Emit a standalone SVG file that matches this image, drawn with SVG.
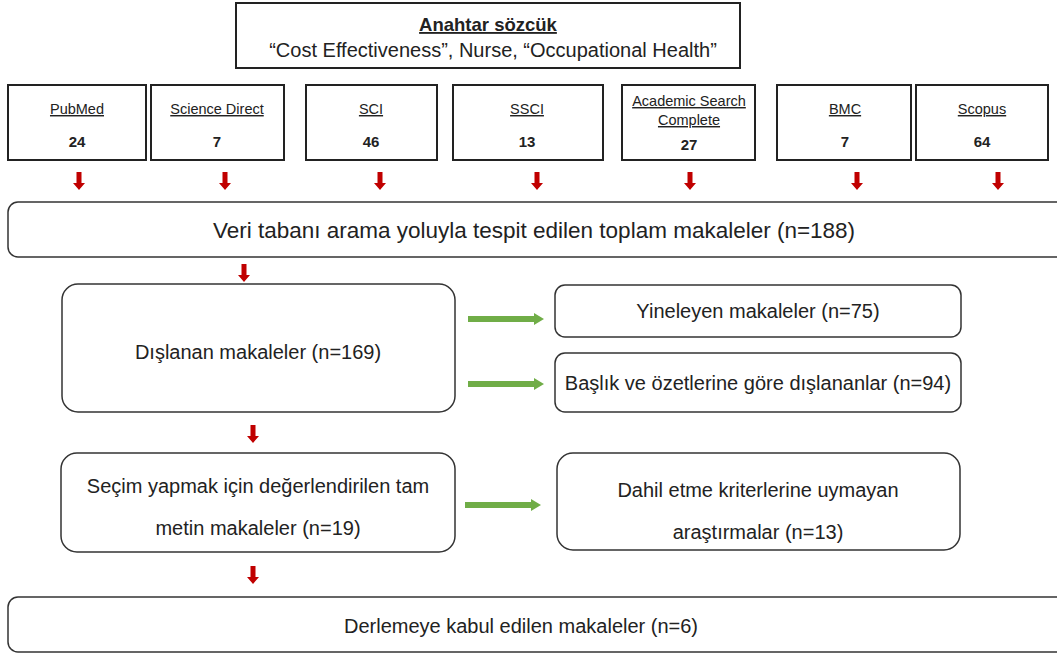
<svg xmlns="http://www.w3.org/2000/svg" width="1057" height="655" viewBox="0 0 1057 655">
<defs>
<style>
.bx{fill:#fff;stroke:#222;stroke-width:2}
.rb{fill:#fff;stroke:#333;stroke-width:1.5}
text{font-family:"Liberation Sans",Arial,sans-serif;fill:#222;text-anchor:middle}
.src{font-size:14.5px;text-decoration:underline}
.num{font-size:15px;font-weight:bold}
.big{font-size:22.5px}
.mid{font-size:20px}
.red{fill:#c00000}
.grn{fill:#70ad47}
</style>
<path id="ra" d="M-2.5,0 H2.5 V11 H6 L0,18 L-6,11 H-2.5 Z"/>
<path id="ga" d="M0,-3 H66 V-6 L76,0 L66,6 V3 H0 Z"/>
</defs>
<rect width="1057" height="655" fill="#fff"/>
<g id="keyword">
<rect class="bx" x="236" y="3" width="504" height="65"/>
<text x="488" y="31" style="font-size:18.5px;font-weight:bold;text-decoration:underline">Anahtar sözcük</text>
<text x="493" y="57" style="font-size:20px">“Cost Effectiveness”, Nurse, “Occupational Health”</text>
</g>
<g id="pubmed"><rect class="bx" x="8" y="85" width="138" height="75"/><text class="src" x="77" y="114">PubMed</text><text class="num" x="77" y="147">24</text></g>
<g id="sciencedirect"><rect class="bx" x="151" y="85" width="133" height="75"/><text class="src" x="217" y="114">Science Direct</text><text class="num" x="217" y="147">7</text></g>
<g id="sci"><rect class="bx" x="306" y="85" width="131" height="75"/><text class="src" x="371" y="114">SCI</text><text class="num" x="371" y="147">46</text></g>
<g id="ssci"><rect class="bx" x="453" y="85" width="150" height="75"/><text class="src" x="527" y="114">SSCI</text><text class="num" x="527" y="147">13</text></g>
<g id="academic"><rect class="bx" x="622" y="85" width="133" height="75"/><text class="src" x="689" y="106">Academic Search</text><text class="src" x="689" y="125">Complete</text><text class="num" x="689" y="150">27</text></g>
<g id="bmc"><rect class="bx" x="777" y="85" width="134" height="75"/><text class="src" x="845" y="114">BMC</text><text class="num" x="845" y="147">7</text></g>
<g id="scopus"><rect class="bx" x="916" y="85" width="132" height="75"/><text class="src" x="982" y="114">Scopus</text><text class="num" x="982" y="147">64</text></g>
<g id="total"><rect class="rb" x="8" y="202" width="1060" height="55" rx="10"/><text class="big" x="534" y="238">Veri tabanı arama yoluyla tespit edilen toplam makaleler (n=188)</text></g>
<g id="excluded"><rect class="rb" x="62" y="284" width="393" height="128" rx="16"/><text class="mid" x="258" y="359">Dışlanan makaleler (n=169)</text></g>
<g id="duplicates"><rect class="rb" x="555" y="285" width="406" height="52" rx="10"/><text class="mid" x="758" y="318">Yineleyen makaleler (n=75)</text></g>
<g id="titleabstract"><rect class="rb" x="555" y="353" width="406" height="59" rx="10"/><text class="mid" x="758" y="390">Başlık ve özetlerine göre dışlananlar (n=94)</text></g>
<g id="fulltext"><rect class="rb" x="61" y="453" width="394" height="99" rx="16"/><text class="mid" x="258" y="493">Seçim yapmak için değerlendirilen tam</text><text class="mid" x="258" y="535">metin makaleler (n=19)</text></g>
<g id="notmeeting"><rect class="rb" x="557" y="453" width="403" height="97" rx="16"/><text class="mid" x="758" y="497">Dahil etme kriterlerine uymayan</text><text class="mid" x="758" y="539">araştırmalar (n=13)</text></g>
<g id="included"><rect class="rb" x="8" y="597" width="1060" height="55" rx="10"/><text class="big" x="521" y="633" style="font-size:20px">Derlemeye kabul edilen makaleler (n=6)</text></g>
<g id="connectors">
<use href="#ra" class="red" x="79" y="172"/>
<use href="#ra" class="red" x="225" y="172"/>
<use href="#ra" class="red" x="380" y="172"/>
<use href="#ra" class="red" x="537" y="172"/>
<use href="#ra" class="red" x="690" y="172"/>
<use href="#ra" class="red" x="857" y="172"/>
<use href="#ra" class="red" x="998" y="172"/>
<use href="#ra" class="red" x="244" y="264"/>
<use href="#ra" class="red" x="253" y="425"/>
<use href="#ra" class="red" x="253" y="566"/>
<use href="#ga" class="grn" x="468" y="319"/>
<use href="#ga" class="grn" x="468" y="384"/>
<use href="#ga" class="grn" x="465" y="505"/>
</g>
</svg>
